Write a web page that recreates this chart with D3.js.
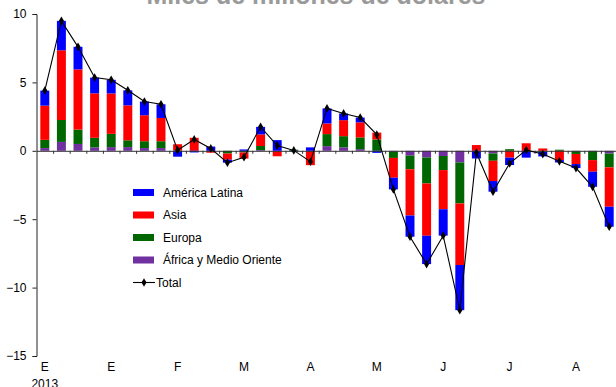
<!DOCTYPE html>
<html>
<head>
<meta charset="utf-8">
<script src="https://cdn.jsdelivr.net/npm/d3@7"></script>
<style>
  html, body { margin: 0; padding: 0; background: #fff; }
  svg { display: block; font-family: Arial, "Liberation Sans", sans-serif; }
</style>
</head>
<body>
<svg id="chart" width="616" height="387"></svg>
<script>
// ---- data ----
const title = "Miles de millones de dólares";
const seriesNames = ["África y Medio Oriente", "Europa", "Asia", "América Latina"];
const seriesColors = ["#7030A0", "#006600", "#FF0000", "#0000FF"];
const africa = [0.2,0.65,0.5,0.25,0.27,0.27,0.2,0.2,0,0,0,0,0,0.05,0,0,0,0.34,0.25,0.12,0,-0.07,-0.35,-0.49,-0.38,-0.85,0,-0.19,0,0,-0.03,0,-0.03,-0.02,-0.2];
const europa = [0.6,1.6,1.05,0.7,0.97,0.5,0.5,0.5,0.03,0,0,-0.2,-0.12,0.3,0,0.08,0,0.88,0.82,0.86,0.83,-0.45,-1.0,-1.9,-1.03,-3.0,0,-0.54,0.12,0,-0.05,0.08,-0.2,-0.66,-1.01];
const asia = [2.5,5.1,4.4,3.25,2.95,2.55,1.9,1.7,0.45,0.95,-0.14,-0.45,-0.45,0.85,-0.4,0,-1.05,0.78,1.17,1.1,0.5,-1.45,-3.38,-3.82,-2.86,-4.5,0.42,-1.48,-0.5,0.55,0.17,-0.68,-0.74,-0.85,-2.88];
const latam = [1.1,2.15,1.65,1.15,1.0,1.1,1.0,1.0,-0.43,-0.12,0.31,-0.22,0.1,0.55,0.78,-0.05,0.25,1.1,0.49,0.35,-0.15,-0.85,-1.55,-2.07,-1.93,-3.3,-0.56,-0.78,-0.54,-0.5,-0.33,-0.17,-0.29,-1.1,-1.46];
const monthLabels = ["E","E","F","M","A","M","J","J","A"];
const yearLabel = "2013";
const labelEvery = 4;
const yTicks = [-15, -10, -5, 0, 5, 10];
const legendOrder = ["América Latina", "Asia", "Europa", "África y Medio Oriente"];

// ---- build ----
const n = africa.length;
const rows = d3.range(n).map(i => ({
  i,
  "África y Medio Oriente": africa[i],
  "Europa": europa[i],
  "Asia": asia[i],
  "América Latina": latam[i]
}));
const totals = rows.map(r => seriesNames.reduce((s, k) => s + r[k], 0));

const svg = d3.select("#chart");
const x0 = 36.5, x1 = 617.5;
const pInner = 0.46;
const x = d3.scaleBand().domain(d3.range(n)).range([x0, x1]).paddingInner(pInner).paddingOuter(pInner / 2);
const xb = d3.scaleLinear().domain([0, n]).range([x0, x1]);
const y = d3.scaleLinear().domain([-15, 10]).range([356, 14]);
const color = d3.scaleOrdinal().domain(seriesNames).range(seriesColors);

// title (partly clipped at the top, as in the reference)
svg.append("text")
  .attr("x", 316).attr("y", 3.5)
  .attr("text-anchor", "middle")
  .attr("font-size", 25).attr("font-weight", "bold")
  .attr("fill", "#9a9a9a")
  .text(title);

// stacked bars
const stack = d3.stack().keys(seriesNames).offset(d3.stackOffsetDiverging);
const layers = stack(rows);
svg.append("g").selectAll("g").data(layers).join("g")
  .attr("fill", d => color(d.key))
  .selectAll("rect").data(d => d).join("rect")
  .attr("x", d => x(d.data.i))
  .attr("width", x.bandwidth())
  .attr("y", d => y(Math.max(d[0], d[1])))
  .attr("height", d => Math.abs(y(d[0]) - y(d[1])));

// zero axis with small ticks between bars
const zeroAxis = svg.append("g")
  .attr("transform", `translate(0,${y(0)})`)
  .call(d3.axisBottom(xb).tickValues(d3.range(1, n)).tickSize(3).tickFormat("").tickSizeOuter(0));
zeroAxis.selectAll("path, line").attr("stroke", "#333");

// y axis
const yAxis = svg.append("g")
  .attr("transform", `translate(${x0},0)`)
  .call(d3.axisLeft(y).tickValues(yTicks).tickSize(4).tickPadding(6).tickSizeOuter(4));
yAxis.selectAll("path, line").attr("stroke", "#222");
yAxis.selectAll("text").attr("font-size", 12).attr("fill", "#000").attr("font-family", "Arial, 'Liberation Sans', sans-serif");

// x labels
const labelIdx = monthLabels.map((_, k) => k * labelEvery);
const xAxis = svg.append("g")
  .attr("transform", `translate(0,362)`)
  .call(d3.axisBottom(x).tickValues(labelIdx).tickSize(0).tickPadding(0)
    .tickFormat((d, k) => monthLabels[k]));
xAxis.select(".domain").remove();
xAxis.selectAll("text").attr("font-size", 12).attr("fill", "#000").attr("font-family", "Arial, 'Liberation Sans', sans-serif");
svg.append("text")
  .attr("x", x(0) + x.bandwidth() / 2).attr("y", 388)
  .attr("text-anchor", "middle").attr("font-size", 12).attr("fill", "#000")
  .text(yearLabel);

// total line
const line = d3.line().x((d, i) => x(i) + x.bandwidth() / 2).y(d => y(d));
svg.append("path").datum(totals)
  .attr("fill", "none").attr("stroke", "#000").attr("stroke-width", 1.1)
  .attr("d", line);
svg.append("g").selectAll("path").data(totals).join("path")
  .attr("transform", (d, i) => `translate(${x(i) + x.bandwidth() / 2},${y(d)})`)
  .attr("d", d3.symbol(d3.symbolDiamond, 22))
  .attr("fill", "#000");

// legend
const lg = svg.append("g").attr("font-size", 12);
legendOrder.forEach((name, k) => {
  const cy = 192.5 + k * 22.5;
  lg.append("rect").attr("x", 133).attr("y", cy - 3.5).attr("width", 21).attr("height", 7).attr("fill", color(name));
  lg.append("text").attr("x", 163).attr("y", cy + 4.2).attr("fill", "#000").text(name);
});
const ty = 192.5 + 4 * 22.5;
lg.append("line").attr("x1", 133).attr("x2", 155).attr("y1", ty).attr("y2", ty).attr("stroke", "#000").attr("stroke-width", 1.1);
lg.append("path").attr("transform", `translate(144,${ty})`).attr("d", d3.symbol(d3.symbolDiamond, 22)).attr("fill", "#000");
lg.append("text").attr("x", 156).attr("y", ty + 4.2).attr("fill", "#000").text("Total");
</script>
</body>
</html>
